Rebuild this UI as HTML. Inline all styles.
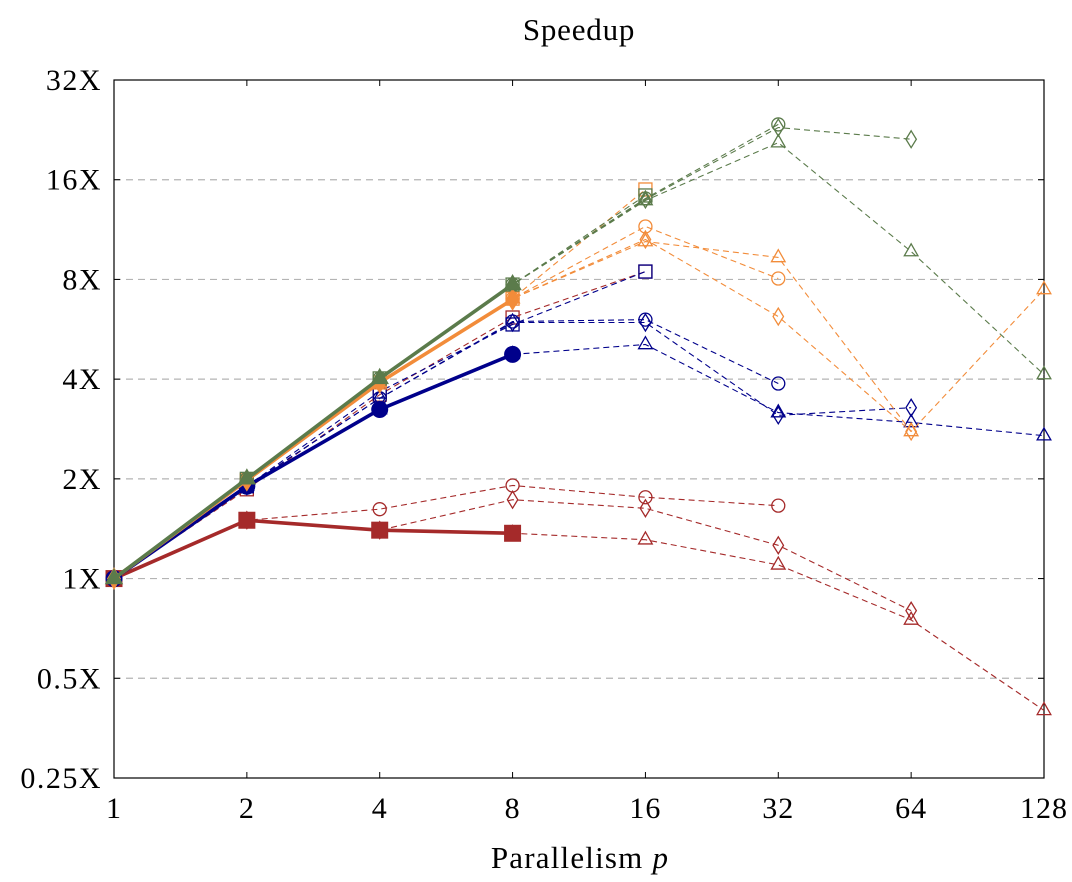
<!DOCTYPE html>
<html><head><meta charset="utf-8"><style>
body{margin:0;background:#fff}
svg{display:block;font-family:"Liberation Serif",serif}
</style></head><body>
<svg id="chart" width="1072" height="882" viewBox="0 0 1072 882" xmlns="http://www.w3.org/2000/svg">
<text x="579" y="40" font-size="31" letter-spacing="0.8" text-anchor="middle">Speedup</text>
<g id="grid"></g><g id="axes"></g><g id="series"></g>
<text x="580" y="868" font-size="31" letter-spacing="1.2" text-anchor="middle">Parallelism <tspan font-style="italic">p</tspan></text>
</svg>
<script>
const xCats=[1,2,4,8,16,32,64,128];
const xTickLabels=["1","2","4","8","16","32","64","128"];
const yTicks=[0.25,0.5,1,2,4,8,16,32];
const yTickLabels=["0.25X","0.5X","1X","2X","4X","8X","16X","32X"];
const redSolid=[1,1.50,1.40,1.37,null,null,null,null];
const redSquare=[1,1.86,3.59,6.14,8.45,null,null,null];
const redCircle=[1,1.50,1.62,1.91,1.76,1.66,null,null];
const redDiamond=[1,1.50,1.40,1.73,1.63,1.26,0.80,null];
const redTriangle=[1,1.50,1.40,1.37,1.31,1.10,0.75,0.40];
const blueSolid=[1,1.90,3.24,4.75,null,null,null,null];
const blueSquare=[1,1.90,3.67,5.85,8.45,null,null,null];
const blueCircle=[1,1.90,3.5,5.97,6.05,3.88,null,null];
const blueDiamond=[1,1.90,3.5,5.93,5.93,3.11,3.28,null];
const blueTriangle=[1,1.90,3.24,4.75,5.09,3.17,2.96,2.70];
const orangeSolid=[1,1.98,3.91,6.96,null,null,null,null];
const orangeSquare=[1,1.98,3.91,7.0,14.95,null,null,null];
const orangeCircle=[1,1.98,3.91,7.0,11.56,8.05,null,null];
const orangeDiamond=[1,1.98,3.91,7.0,10.56,6.18,2.78,null];
const orangeTriangle=[1,1.98,3.91,7.0,10.41,9.32,2.78,7.46];
const greenSolid=[1,2.00,4.02,7.72,null,null,null,null];
const greenSquare=[1,2.00,4.02,7.72,14.34,null,null,null];
const greenCircle=[1,2.00,4.02,7.72,14.04,23.5,null,null];
const greenDiamond=[1,2.00,4.02,7.72,13.95,23.0,21.2,null];
const greenTriangle=[1,2.00,4.02,7.72,13.85,20.7,9.71,4.13];

const X0=114,X1=1044,Y0=778,Y1=80;
function xS(v){return X0+(Math.log2(v)/7)*(X1-X0);}
function yS(v){return Y0-((Math.log2(v)+2)/7)*(Y0-Y1);}
const NS="http://www.w3.org/2000/svg";
function mk(tag,attrs,parent){const e=document.createElementNS(NS,tag);for(const k in attrs)e.setAttribute(k,attrs[k]);parent.appendChild(e);return e;}
const grid=document.getElementById('grid'),axes=document.getElementById('axes'),ser=document.getElementById('series');
yTicks.forEach((t,i)=>{const y=yS(t);
 if(i>0&&i<yTicks.length-1){const g=mk('line',{x1:X0,x2:X1,y1:y,y2:y,stroke:'#b4b4b4','stroke-width':1.2,'stroke-dasharray':'7 5'},grid);
 
 }
 const tl=mk('line',{x1:X0,x2:X0+6,y1:y,y2:y,stroke:'#000','stroke-width':1},axes);
 
 
 const tr=mk('line',{x1:X1-6,x2:X1,y1:y,y2:y,stroke:'#000','stroke-width':1},axes);
 
 
 const tx=mk('text',{x:102,y:y+10,'font-size':30,'letter-spacing':1.5,'text-anchor':'end'},axes);tx.textContent=yTickLabels[i];
 
 
});
xCats.forEach((c,i)=>{const x=xS(c);
 const tb=mk('line',{x1:x,x2:x,y1:Y0,y2:Y0-6,stroke:'#000','stroke-width':1},axes);
 
 
 const tt=mk('line',{x1:x,x2:x,y1:Y1,y2:Y1+6,stroke:'#000','stroke-width':1},axes);
 
 
 const tx=mk('text',{x:x,y:818,'font-size':30,'letter-spacing':1,'text-anchor':'middle'},axes);tx.textContent=xTickLabels[i];
 
 
});
const frame=mk('rect',{x:X0,y:Y1,width:X1-X0,height:Y0-Y1,fill:'none',stroke:'#000','stroke-width':1.2},axes);



function marker(shape,x,y,r,color,filled,parent){
 const f=filled?color:'none',sw=filled?1:1.3;let e;
 if(shape==='square')e=mk('rect',{x:x-r,y:y-r,width:2*r,height:2*r,fill:f,stroke:color,'stroke-width':sw},parent);
 else if(shape==='circle')e=mk('circle',{cx:x,cy:y,r:r,fill:f,stroke:color,'stroke-width':sw},parent);
 else if(shape==='diamond')e=mk('polygon',{points:`${x},${y-r*1.3} ${x+r*0.8},${y} ${x},${y+r*1.3} ${x-r*0.8},${y}`,fill:f,stroke:color,'stroke-width':sw},parent);
 else e=mk('polygon',{points:`${x},${y-r*1.2} ${x+r*1.05},${y+r*0.65} ${x-r*1.05},${y+r*0.65}`,fill:f,stroke:color,'stroke-width':sw},parent);
 
 
}
function draw(name,vals,color,shape,solid){
 const g=mk('g',{},ser);
 
 
 const pts=[];vals.forEach((v,i)=>{if(v!=null)pts.push([xS(xCats[i]),yS(v)]);});
 const l=mk('polyline',{points:pts.map(p=>p.join(',')).join(' '),fill:'none',stroke:color,'stroke-width':solid?3.6:1.1,'stroke-dasharray':solid?'none':'6 4','stroke-linejoin':'round'},g);
 
 
 pts.forEach(p=>marker(shape,p[0],p[1],solid?8:6.5,color,solid,g));
}
const R='#a52a2a',B='#00008b',O='#f28c3a',G='#5b7b4b';
draw('red-triangle',redTriangle,R,'triangle');draw('red-diamond',redDiamond,R,'diamond');draw('red-circle',redCircle,R,'circle');draw('red-square',redSquare,R,'square');
draw('blue-triangle',blueTriangle,B,'triangle');draw('blue-diamond',blueDiamond,B,'diamond');draw('blue-circle',blueCircle,B,'circle');draw('blue-square',blueSquare,B,'square');
draw('orange-triangle',orangeTriangle,O,'triangle');draw('orange-diamond',orangeDiamond,O,'diamond');draw('orange-circle',orangeCircle,O,'circle');draw('orange-square',orangeSquare,O,'square');
draw('green-triangle',greenTriangle,G,'triangle');draw('green-diamond',greenDiamond,G,'diamond');draw('green-circle',greenCircle,G,'circle');draw('green-square',greenSquare,G,'square');
draw('red-solid',redSolid,R,'square',true);draw('blue-solid',blueSolid,B,'circle',true);draw('orange-solid',orangeSolid,O,'diamond',true);draw('green-solid',greenSolid,G,'triangle',true);
</script>
</body></html>
